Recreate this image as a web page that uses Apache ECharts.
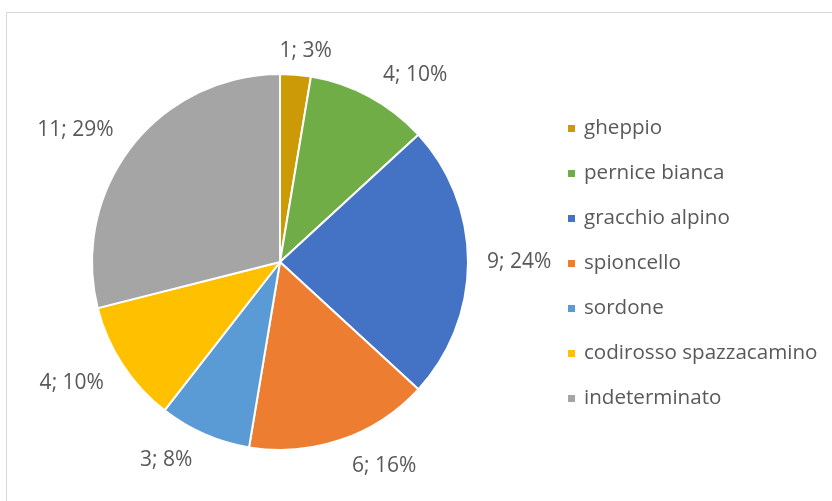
<!DOCTYPE html>
<html>
<head>
<meta charset="utf-8">
<script src="https://cdn.jsdelivr.net/npm/echarts@6/dist/echarts.min.js"></script>
<style>
  html, body { margin: 0; padding: 0; background: #fff; }
  #chart { width: 832px; height: 501px; }
</style>
</head>
<body>
<div id="chart"></div>
<script>
// dati del grafico
const categories = ['gheppio', 'pernice bianca', 'gracchio alpino', 'spioncello', 'sordone', 'codirosso spazzacamino', 'indeterminato'];
const counts = [1, 4, 9, 6, 3, 4, 11];
const percents = ['3%', '10%', '24%', '16%', '8%', '10%', '29%'];
const colors = ['#CC9A06', '#70AD47', '#4472C4', '#ED7D31', '#5B9BD5', '#FFC000', '#A5A5A5'];

const chart = echarts.init(document.getElementById('chart'));
const font = '"Open Sans", Lato, sans-serif';

const CX = 280, CY = 262, R = 188, GAP = 19;
const total = counts.reduce((a, b) => a + b, 0);
// angolo medio di ogni fetta (gradi, orario dall'alto)
const midAngles = [];
let acc = 0;
counts.forEach(v => {
  midAngles.push((acc + v / 2) / total * 360);
  acc += v;
});

// etichette "all'esterno" come in Excel: l'angolo del riquadro tocca il cerchio
function placeLabel(params) {
  const a = midAngles[params.dataIndex] * Math.PI / 180;
  const ux = Math.sin(a), uy = -Math.cos(a);
  const w = params.labelRect.width;
  const px = CX + ux * (R + GAP), py = CY + uy * (R + GAP);
  const clamp = v => Math.max(-1, Math.min(1, v));
  const kx = clamp(ux / 0.3), ky = clamp(uy / 0.25);
  return {
    x: px + kx * (w / 2 + 5 * Math.abs(uy)),
    y: py + ky * (uy < 0 ? 5 : 8),
    align: 'center',
    verticalAlign: 'middle'
  };
}

const option = {
  animation: false,
  color: colors,
  graphic: [
    {
      type: 'rect',
      shape: { x: 6.5, y: 12.5, width: 840, height: 500 },
      style: { fill: 'none', stroke: '#d9d9d9', lineWidth: 1 }
    }
  ],
  legend: {
    orient: 'vertical',
    left: 561,
    top: 113,
    icon: 'rect',
    itemWidth: 9,
    itemHeight: 9,
    itemGap: 24,
    textStyle: { fontSize: 20.6, lineHeight: 20, color: '#595959', fontFamily: font, padding: [0, 0, 0, 3] },
    data: categories
  },
  series: [
    {
      type: 'pie',
      center: [CX, CY],
      radius: [0, R],
      startAngle: 90,
      clockwise: true,
      itemStyle: { borderColor: '#fff', borderWidth: 2 },
      label: {
        position: 'outside',
        fontSize: 21,
        color: '#595959',
        fontFamily: font,
        overflow: 'none',
        formatter: p => counts[p.dataIndex] + '; ' + percents[p.dataIndex]
      },
      labelLine: { show: false },
      labelLayout: placeLabel,
      data: categories.map((c, i) => ({ name: c, value: counts[i] }))
    }
  ]
};

chart.setOption(option);
</script>
</body>
</html>
